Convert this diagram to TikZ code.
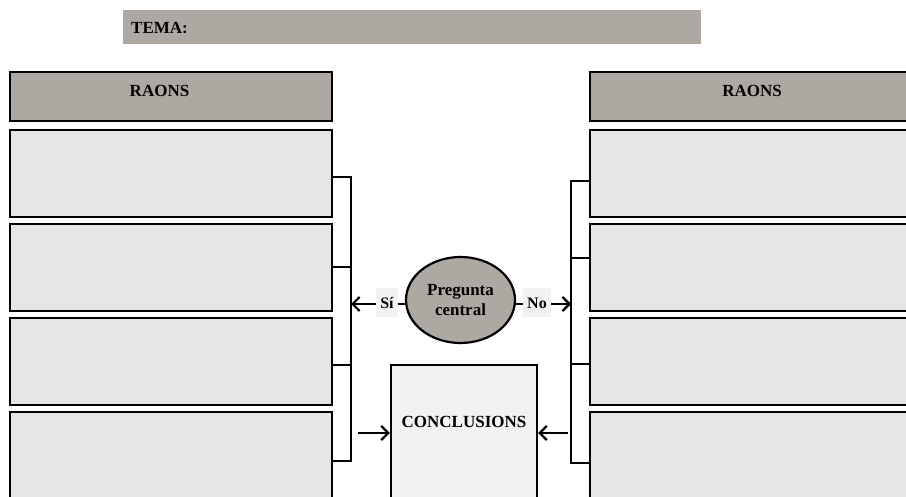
\documentclass[tikz,border=0pt]{standalone}
\usepackage{fontspec}
\setmainfont{Liberation Serif}
\usetikzlibrary{shapes.geometric,arrows.meta}
\definecolor{hdrgrey}{HTML}{ADA9A2}
\definecolor{boxgrey}{HTML}{E5E5E5}
\definecolor{conclgrey}{HTML}{F2F2F1}
\definecolor{lblgrey}{HTML}{F2F2F2}
\tikzset{
  hdr/.style={draw=black, line width=2.4pt, fill=hdrgrey, rectangle, inner sep=0pt},
  raobox/.style={draw=black, line width=2.4pt, fill=boxgrey, rectangle, inner sep=0pt},
  conn/.style={draw=black, line width=2.2pt},
  arr/.style={conn, -{Straight Barb[length=7pt,width=14pt,line width=2.2pt]}},
  txt/.style={font=\fontsize{17}{19}\selectfont\bfseries, inner sep=0pt},
  lbl/.style={font=\fontsize{16}{18}\selectfont\bfseries, fill=lblgrey, inner sep=4pt, minimum height=29pt}
}
\begin{document}
\begin{tikzpicture}[x=1pt,y=-1pt]
\useasboundingbox (0,0) rectangle (906,497);
\clip (0,0) rectangle (906,497);
\fill[white] (0,0) rectangle (906,497);
% TEMA bar
\node[fill=hdrgrey, rectangle, inner sep=0pt, minimum width=578pt, minimum height=34pt] (tema) at (412,27) {};
\node[txt, anchor=west] (tematxt) at (131,28) {TEMA:};
% left column
\node[hdr, minimum width=322pt, minimum height=49pt] (lh) at (171,96.5) {};
\node[txt] (lhtxt) at (159.5,91) {RAONS};
\node[raobox, minimum width=322pt, minimum height=87pt] (l1) at (171,173.5) {};
\node[raobox, minimum width=322pt, minimum height=87pt] (l2) at (171,267.5) {};
\node[raobox, minimum width=322pt, minimum height=87pt] (l3) at (171,361.5) {};
\node[raobox, minimum width=322pt, minimum height=87pt] (l4) at (171,455.5) {};
% right column
\node[hdr, minimum width=322pt, minimum height=49pt] (rh) at (751,96.5) {};
\node[txt] (rhtxt) at (752,91) {RAONS};
\node[raobox, minimum width=322pt, minimum height=87pt] (r1) at (751,173.5) {};
\node[raobox, minimum width=322pt, minimum height=87pt] (r2) at (751,267.5) {};
\node[raobox, minimum width=322pt, minimum height=87pt] (r3) at (751,361.5) {};
\node[raobox, minimum width=322pt, minimum height=87pt] (r4) at (751,455.5) {};
% spines
\coordinate (ls1) at (351,177);
\coordinate (ls2) at (351,267);
\coordinate (ls3) at (351,365);
\coordinate (ls4) at (351,461);
\coordinate (lsm) at (351,304);
\coordinate (rs1) at (571,181);
\coordinate (rs2) at (571,258);
\coordinate (rs3) at (571,364);
\coordinate (rs4) at (571,463);
\coordinate (rsm) at (571,304);
\draw[conn] (l1.east |- ls1) -- (ls1) -- (ls4) -- (l4.east |- ls4);
\draw[conn] (l2.east |- ls2) -- (ls2);
\draw[conn] (l3.east |- ls3) -- (ls3);
\draw[conn] (r1.west |- rs1) -- (rs1) -- (rs4) -- (r4.west |- rs4);
\draw[conn] (r2.west |- rs2) -- (rs2);
\draw[conn] (r3.west |- rs3) -- (rs3);
% central question
\coordinate (qw) at (407,304);
\coordinate (qe) at (514,304);
\draw[arr] (qw) -- (lsm);
\draw[arr] (qe) -- (rsm);
\node[draw=black, line width=2.2pt, fill=hdrgrey, ellipse, minimum width=109pt, minimum height=86pt, inner sep=0pt, align=center, font=\fontsize{17}{20}\selectfont\bfseries] (q) at (460.5,300) {Pregunta\\central};
\node[lbl] (si) at (387,303) {Sí};
\node[lbl] (no) at (537,303) {No};
% conclusions
\node[draw=black, line width=2.4pt, fill=conclgrey, rectangle, inner sep=0pt, minimum width=146pt, minimum height=160pt, anchor=north] (concl) at (464,364) {};
\node[txt] (concltxt) at (464,422) {CONCLUSIONS};
\coordinate (ca) at (358,433);
\coordinate (cb) at (568,433);
\draw[arr] (ca) -- (concl.west |- ca);
\draw[arr] (cb) -- (concl.east |- cb);
\end{tikzpicture}
\end{document}
